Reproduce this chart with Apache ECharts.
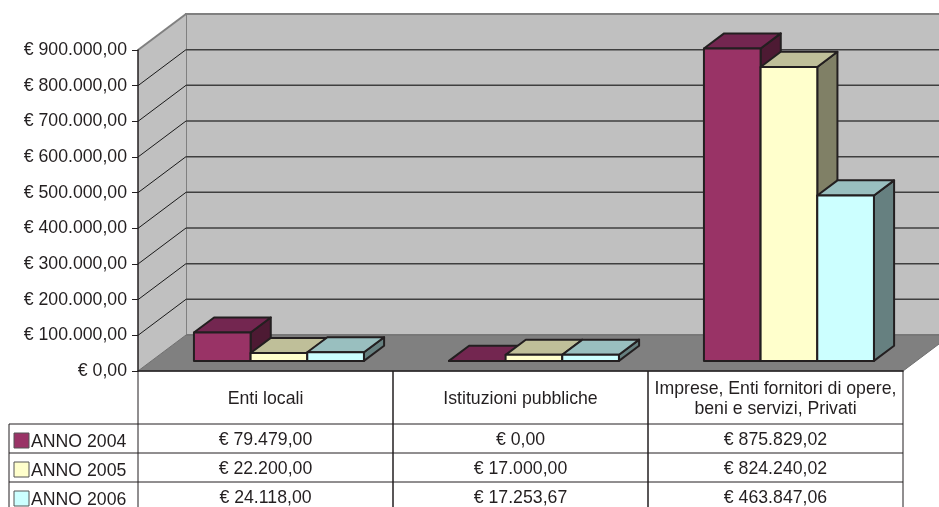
<html>
<head>
    <meta charset="utf-8">
    <title>Contributi per anno</title>
    <style>
        * {
            margin: 0;
            padding: 0;
        }
        #chart-container {
            width: 939px;
            height: 507px;
        }
    </style>
</head>
<body>
<div id="chart-container"></div>
<script src="https://cdn.jsdelivr.net/npm/echarts@6.0.0/dist/echarts.min.js"></script>
<script>
    var categories = ['Enti locali', 'Istituzioni pubbliche', 'Imprese, Enti fornitori di opere,\nbeni e servizi, Privati'];
    var seriesNames = ['ANNO 2004', 'ANNO 2005', 'ANNO 2006'];
    var anno2004 = [79479.00, 0.00, 875829.02];
    var anno2005 = [22200.00, 17000.00, 824240.02];
    var anno2006 = [24118.00, 17253.67, 463847.06];
    var yTicks = [0, 100000, 200000, 300000, 400000, 500000, 600000, 700000, 800000, 900000];

    var allData = [anno2004, anno2005, anno2006];
    var colors = [
        {front: '#993366', top: '#732650', side: '#4d1a33'},
        {front: '#ffffcc', top: '#bfbf99', side: '#808066'},
        {front: '#ccffff', top: '#99bfbf', side: '#668080'}
    ];

    // depth of the 3d box, and where the bars sit in it
    var DX = 48, DY = 36;
    var FRONT = 0.28, BAR_D = 0.42;
    var HEAD_H = 53, ROW_H = 29, LEG_W = 129;
    var INK = '#231f20';
    var FONT = 'Liberation Sans, Arial, sans-serif';
    var FS = 17.7;

    function euro(v) {
        var parts = v.toFixed(2).split('.');
        var intPart = parts[0].replace(/\B(?=(\d{3})+(?!\d))/g, '.');
        return '€ ' + intPart + ',' + parts[1];
    }

    function line(x1, y1, x2, y2, color, w) {
        return {type: 'line', shape: {x1: x1, y1: y1, x2: x2, y2: y2}, style: {stroke: color, lineWidth: w}};
    }

    function renderWalls(params, api) {
        var band = api.size([1, 0])[0];
        var x0 = api.coord([0, 0])[0] - band / 2;
        var x1 = api.coord([categories.length - 1, 0])[0] + band / 2;
        var y0 = api.coord([0, 0])[1];
        var yTop = api.coord([0, yTicks[yTicks.length - 1]])[1];
        var ch = [];
        ch.push({type: 'polygon', shape: {points: [[x0 + DX, yTop - DY], [x1 + DX, yTop - DY], [x1 + DX, y0 - DY], [x0 + DX, y0 - DY]]},
            style: {fill: '#c0c0c0', stroke: '#808080', lineWidth: 2}});
        ch.push({type: 'polygon', shape: {points: [[x0, yTop], [x0 + DX, yTop - DY], [x0 + DX, y0 - DY], [x0, y0]]},
            style: {fill: '#c0c0c0'}});
        ch.push({type: 'polygon', shape: {points: [[x0, y0], [x0 + DX, y0 - DY], [x1 + DX, y0 - DY], [x1, y0]]},
            style: {fill: '#808080', stroke: '#6e6e6e', lineWidth: 1}});
        ch.push(line(x0, yTop, x0 + DX, yTop - DY, '#808080', 2));
        yTicks.forEach(function (t, i) {
            if (i === 0 || i === yTicks.length - 1) return;
            var y = api.coord([0, t])[1];
            ch.push(line(x0, y, x0 + DX, y - DY, '#1a1a1a', 1));
            ch.push(line(x0 + DX, y - DY, x1 + DX, y - DY, '#3f3f3f', 1.5));
        });
        return {type: 'group', children: ch};
    }

    function barRenderer(s) {
        return function (params, api) {
            var cat = api.value(0), v = api.value(1);
            var base = api.coord([cat, 0]);
            var top = api.coord([cat, v]);
            var band = api.size([1, 0])[0];
            var bw = band / 4.5;
            var xl = base[0] - 1.5 * bw + s * bw + DX * FRONT;
            var xr = xl + bw;
            var yb = base[1] - DY * FRONT;
            var yt = top[1] - DY * FRONT;
            var dx = DX * BAR_D, dy = DY * BAR_D;
            var c = colors[s];
            var st = {stroke: INK, lineWidth: 2, lineJoin: 'round'};
            return {
                type: 'group', children: [
                    {type: 'polygon', shape: {points: [[xr, yt], [xr + dx, yt - dy], [xr + dx, yb - dy], [xr, yb]]},
                        style: Object.assign({fill: c.side}, st)},
                    {type: 'polygon', shape: {points: [[xl, yt], [xr, yt], [xr + dx, yt - dy], [xl + dx, yt - dy]]},
                        style: Object.assign({fill: c.top}, st)},
                    {type: 'rect', shape: {x: xl, y: yt, width: bw, height: yb - yt},
                        style: Object.assign({fill: c.front}, st)}
                ]
            };
        };
    }

    function renderTable(params, api) {
        var cat = api.value(0);
        var band = api.size([1, 0])[0];
        var c = api.coord([cat, 0]);
        var xl = c[0] - band / 2, xr = c[0] + band / 2, y0 = c[1];
        var H = api.getHeight();
        var yHead = y0 + HEAD_H;
        var ch = [];
        ch.push(line(xl, y0, xl, H, INK, 1));
        ch.push(line(xr, y0, xr, H, INK, 1));
        for (var k = 0; k < seriesNames.length; k++) {
            var ry = yHead + k * ROW_H;
            ch.push(line(xl, ry, xr, ry, INK, 1));
            ch.push({type: 'text', x: c[0], y: ry + ROW_H / 2 + 2, style: {
                text: euro(allData[k][cat]), fill: INK, font: FS + 'px ' + FONT, align: 'center', verticalAlign: 'middle'}});
        }
        if (cat === 0) {
            var lx = xl - LEG_W;
            ch.push(line(lx, yHead, lx, H, INK, 1));
            for (var j = 0; j < seriesNames.length; j++) {
                var yy = yHead + j * ROW_H;
                ch.push(line(lx, yy, xl, yy, INK, 1));
                ch.push({type: 'rect', shape: {x: lx + 5, y: yy + 9, width: 15, height: 15},
                    style: {fill: colors[j].front, stroke: '#555', lineWidth: 1}});
                ch.push({type: 'text', x: lx + 22, y: yy + ROW_H / 2 + 4, style: {
                    text: seriesNames[j], fill: INK, font: FS + 'px ' + FONT, align: 'left', verticalAlign: 'middle'}});
            }
        }
        return {type: 'group', children: ch};
    }

    var dom = document.getElementById('chart-container');
    var myChart = echarts.init(dom, null, {renderer: 'canvas'});

    var series = [{
        type: 'custom',
        name: 'walls',
        renderItem: renderWalls,
        data: [[0, 0]],
        clip: false,
        silent: true
    }];
    seriesNames.forEach(function (name, s) {
        series.push({
            type: 'custom',
            name: name,
            renderItem: barRenderer(s),
            data: allData[s].map(function (v, i) { return [i, v]; }),
            encode: {x: 0, y: 1},
            clip: false
        });
    });
    series.push({
        type: 'custom',
        name: 'table',
        renderItem: renderTable,
        data: categories.map(function (c, i) { return [i, 0]; }),
        encode: {x: 0, y: 1},
        clip: false,
        silent: true
    });

    var option = {
        animation: false,
        backgroundColor: '#ffffff',
        textStyle: {fontFamily: FONT},
        grid: {left: 138, right: 36, top: 50, bottom: 136},
        xAxis: {
            type: 'category',
            data: categories,
            z: 10,
            axisLine: {show: true, lineStyle: {color: INK, width: 1.5}},
            axisTick: {show: false},
            axisLabel: {
                interval: 0, fontSize: FS, color: INK, lineHeight: 20,
                verticalAlign: 'middle', margin: 28, fontFamily: FONT
            }
        },
        yAxis: {
            type: 'value',
            min: 0,
            max: 900000,
            interval: 100000,
            z: 10,
            axisLine: {show: true, lineStyle: {color: INK, width: 1.5}},
            axisTick: {show: true, length: 6, lineStyle: {color: INK}},
            splitLine: {show: false},
            axisLabel: {fontSize: FS, color: INK, margin: 11, fontFamily: FONT, formatter: euro}
        },
        series: series
    };

    myChart.setOption(option);
    window.addEventListener('resize', myChart.resize);
</script>
</body>
</html>
